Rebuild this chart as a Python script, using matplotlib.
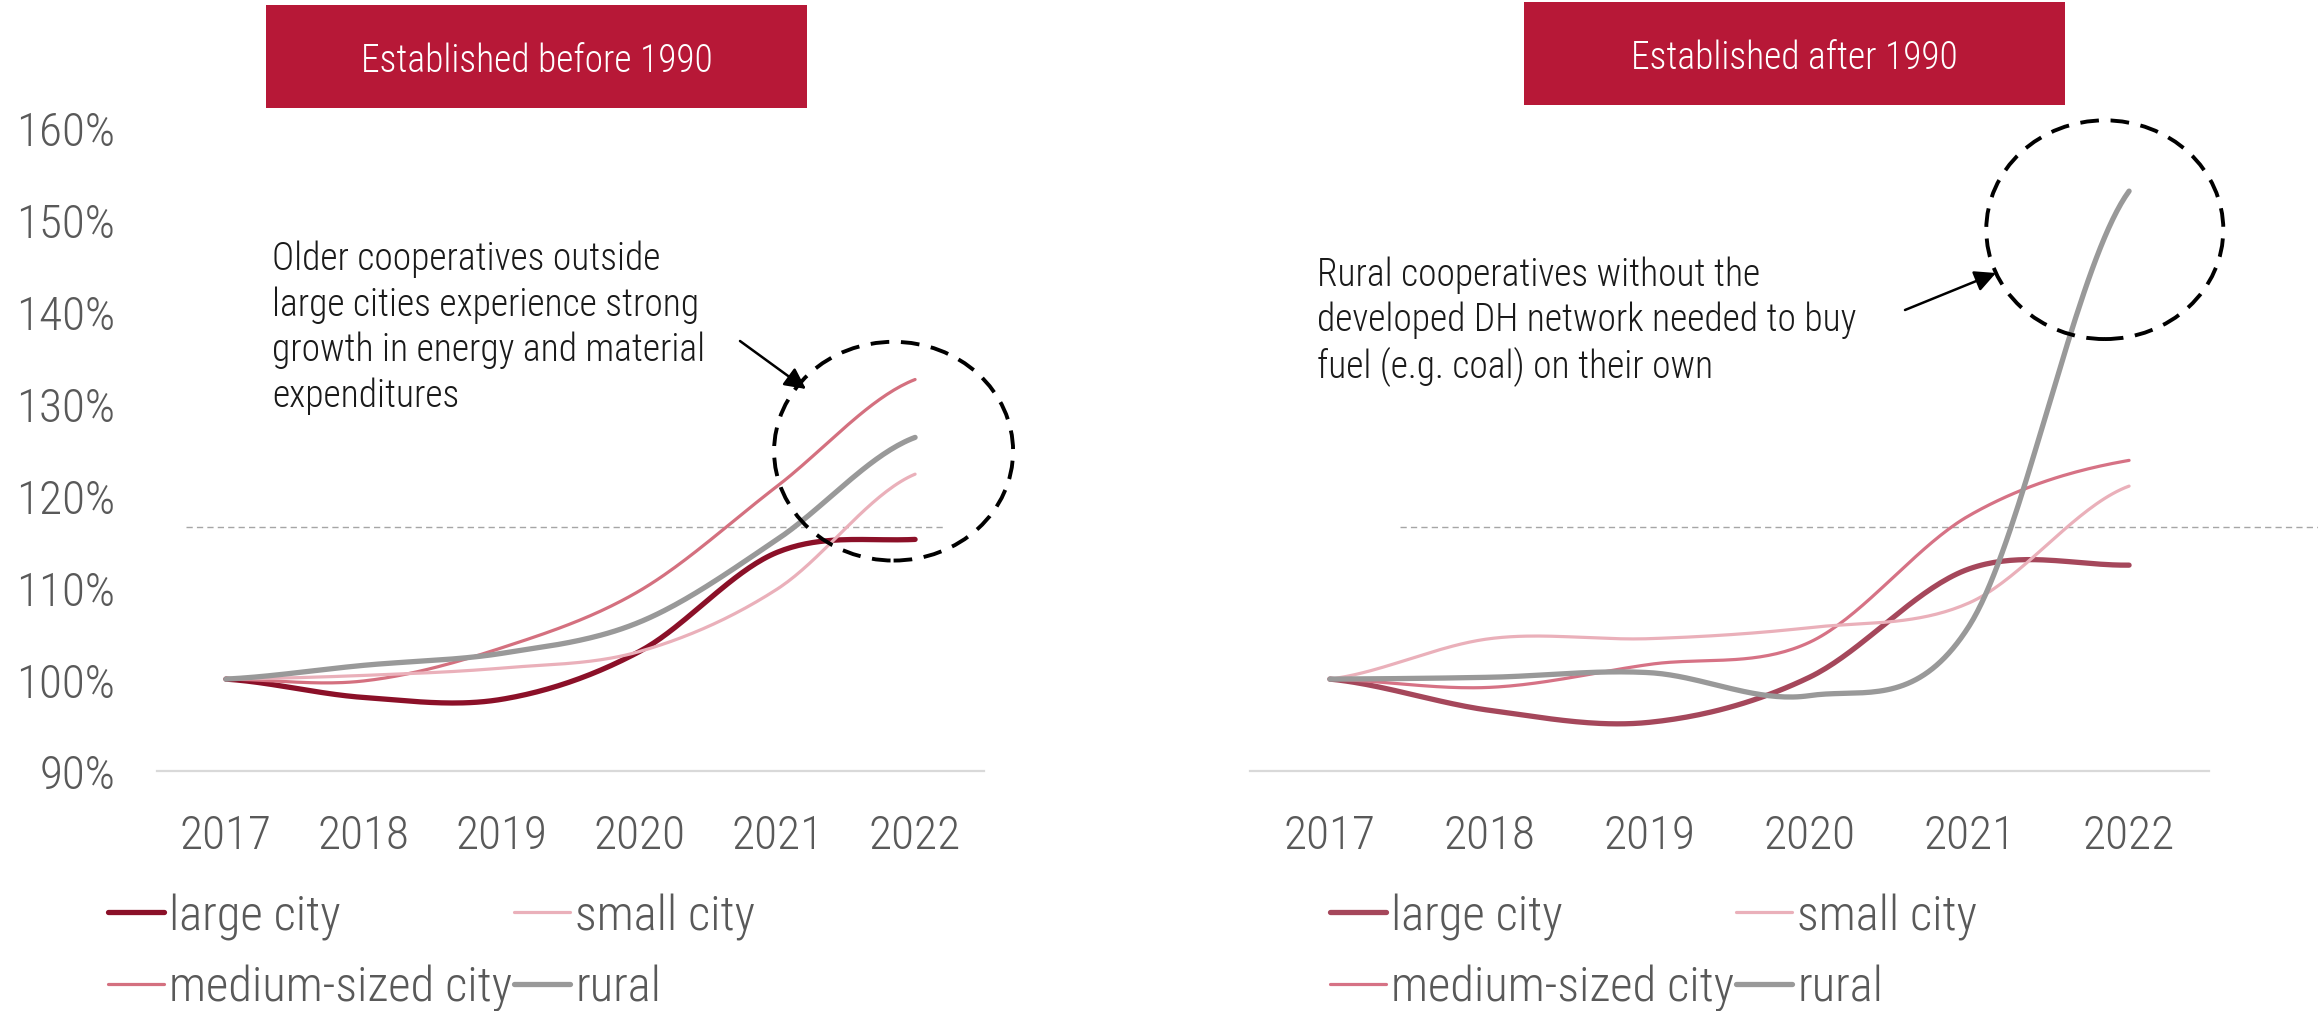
import numpy as np
import matplotlib

matplotlib.use("Agg")
import matplotlib.pyplot as plt
from matplotlib import font_manager
from matplotlib.patches import Ellipse, Rectangle, FancyArrowPatch
from matplotlib.lines import Line2D

# pick a narrow font, like the condensed one in the original
names = {f.name for f in font_manager.fontManager.ttflist}
font = "DejaVu Sans"
for cand in ["Roboto Condensed", "Roboto", "Liberation Sans Narrow"]:
    if cand in names:
        font = cand
        break
plt.rcParams["font.family"] = [font, "DejaVu Sans"]
plt.rcParams["font.weight"] = "light"

# data (index, 2017 = 100%)
years = ["2017", "2018", "2019", "2020", "2021", "2022"]
labels = ["large city", "medium-sized city", "small city", "rural"]

before_large = [100, 98.0, 97.8, 103.0, 113.8, 115.2]
before_medium = [100, 99.8, 103.4, 109.6, 121.0, 132.6]
before_small = [100, 100.4, 101.2, 103.0, 109.8, 122.3]
before_rural = [100, 101.5, 102.8, 106.2, 115.2, 126.3]

after_large = [100, 96.6, 95.3, 100.2, 112.0, 112.4]
after_medium = [100, 99.1, 101.6, 104.0, 117.8, 123.8]
after_small = [100, 104.4, 104.4, 105.6, 108.3, 121.0]
after_rural = [100, 100.2, 100.7, 98.2, 105.8, 153.1]

ref_level = 116.5
yticks = [90, 100, 110, 120, 130, 140, 150, 160]

RED = "#B71837"
GREY_TXT = "#595959"


def smooth(ys, n=40):
    # catmull-rom through the yearly points (same idea as excel smoothed lines)
    y = np.asarray(ys, dtype=float)
    m = np.empty_like(y)
    m[1:-1] = (y[2:] - y[:-2]) / 2
    m[0] = (y[1] - y[0]) / 2
    m[-1] = (y[-1] - y[-2]) / 2
    xs, out = [], []
    t = np.linspace(0, 1, n)
    for i in range(len(y) - 1):
        h00 = 2 * t**3 - 3 * t**2 + 1
        h10 = t**3 - 2 * t**2 + t
        h01 = -2 * t**3 + 3 * t**2
        h11 = t**3 - t**2
        xs.append(i + t)
        out.append(h00 * y[i] + h10 * m[i] + h01 * y[i + 1] + h11 * m[i + 1])
    return np.concatenate(xs), np.concatenate(out)


def panel(ax, series, colors, widths, show_y):
    for vals, c, w in zip(series, colors, widths):
        x, y = smooth(vals)
        ax.plot(x, y, color=c, lw=w, solid_capstyle="round", zorder=3)

    ax.set_xlim(-0.5, len(years) - 0.5)
    ax.set_ylim(90, 160)
    ax.set_xticks(range(len(years)))
    ax.set_xticklabels(years)
    ax.set_yticks(yticks)
    if show_y:
        ax.set_yticklabels([f"{v}%" for v in yticks])
    else:
        ax.set_yticklabels([])
    ax.tick_params(length=0, labelsize=34, colors=GREY_TXT)
    ax.tick_params(axis="x", pad=30)
    ax.tick_params(axis="y", pad=30)
    for s in ["top", "right", "left"]:
        ax.spines[s].set_visible(False)
    ax.spines["bottom"].set_color("#D9D9D9")
    ax.spines["bottom"].set_linewidth(1.6)

    handles = [
        Line2D([], [], color=c, lw=w, solid_capstyle="round")
        for c, w in zip(colors, widths)
    ]
    return handles


W, H = 2318, 1012
fig = plt.figure(figsize=(W / 100, H / 100), dpi=100)

ax1 = fig.add_axes([157 / W, 240 / H, 827 / W, 643.3 / H])
ax2 = fig.add_axes([1250 / W, 240 / H, 959 / W, 643.3 / H])

left_colors = ["#8B1028", "#D4707F", "#EAB0BA", "#999999"]
right_colors = ["#A5475B", "#D67285", "#EAB0BA", "#999999"]
widths = [3.8, 2.3, 2.3, 3.8]

h1 = panel(ax1, [before_large, before_medium, before_small, before_rural],
           left_colors, widths, True)
h2 = panel(ax2, [after_large, after_medium, after_small, after_rural],
           right_colors, widths, False)

# dashed reference lines
ax1.plot([-0.29, 5.21], [ref_level, ref_level], color="#A6A6A6", lw=1.0,
         ls=(0, (4.5, 3)), zorder=2, clip_on=False)
ax2.plot([0.44, 6.2], [ref_level, ref_level], color="#A6A6A6", lw=1.0,
         ls=(0, (4.5, 3)), zorder=2, clip_on=False)

# legends: row1 large/small, row2 medium/rural
for ax, hs, x0 in [(ax1, h1, 108), (ax2, h2, 1330)]:
    ax.legend(hs, labels, ncol=2, loc="upper left",
              bbox_to_anchor=(x0 / W, 1 - 894 / H), bbox_transform=fig.transFigure,
              frameon=False, fontsize=35, labelcolor=GREY_TXT, borderpad=0,
              borderaxespad=0, handlelength=1.15, handletextpad=0.1,
              columnspacing=0.05, labelspacing=0.5)

# dashed circles
ax1.add_patch(Ellipse((4.844, 124.8), 1.734, 23.8, fill=False, ec="black", lw=2.8,
                      ls=(0, (4.8, 3.0)), clip_on=False, zorder=4))
ax2.add_patch(Ellipse((4.848, 148.9), 1.483, 23.8, fill=False, ec="black", lw=2.8,
                      ls=(0, (4.8, 3.0)), clip_on=False, zorder=4))

# annotation text + arrows
fig.text(272 / W, 1 - 241 / H,
         "Older cooperatives outside\nlarge cities experience strong\n"
         "growth in energy and material\nexpenditures",
         fontsize=27, color="#1A1A1A", va="top", ha="left", linespacing=1.27)
fig.text(1317 / W, 1 - 257 / H,
         "Rural cooperatives without the\ndeveloped DH network needed to buy\n"
         "fuel (e.g. coal) on their own",
         fontsize=27, color="#1A1A1A", va="top", ha="left", linespacing=1.24)

arrow = dict(arrowstyle="-|>", color="black", lw=1.8, mutation_scale=32,
             shrinkA=0, shrinkB=0)
fig.add_artist(FancyArrowPatch((740 / W, 1 - 342 / H), (806 / W, 1 - 390 / H),
                               transform=fig.transFigure, **arrow))
fig.add_artist(FancyArrowPatch((1905 / W, 1 - 311 / H), (1996 / W, 1 - 274 / H),
                               transform=fig.transFigure, **arrow))

# header boxes
for (x0, x1, y0, y1), txt in [((266, 807, 6, 109), "Established before 1990"),
                              ((1524, 2065, 3, 106), "Established after 1990")]:
    fig.add_artist(Rectangle((x0 / W, 1 - y1 / H), (x1 - x0) / W, (y1 - y0) / H,
                             transform=fig.transFigure, color=RED, lw=0))
    fig.text((x0 + x1) / 2 / W, 1 - ((y0 + y1) / 2 + 4) / H, txt, color="white",
             fontsize=27, ha="center", va="center")

fig.savefig("out.png", dpi=100)
